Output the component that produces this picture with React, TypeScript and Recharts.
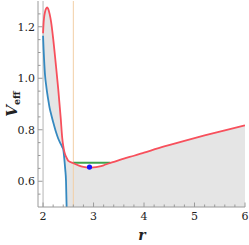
import React from "react";
import {
  ComposedChart,
  Area,
  Line,
  Scatter,
  XAxis,
  YAxis,
  ReferenceLine,
} from "recharts";

// r grid where both curves exist (left of the blue curve leaving the frame)
const rNear = [
  2.0, 2.005, 2.01, 2.02, 2.04, 2.06, 2.08, 2.1, 2.13, 2.16, 2.2, 2.25, 2.3,
  2.35, 2.38, 2.4, 2.42, 2.44, 2.455, 2.467,
];
const redNear = [
  1.175, 1.195, 1.212, 1.235, 1.258, 1.27, 1.275, 1.27, 1.25, 1.218, 1.155,
  1.06, 0.96, 0.845, 0.768, 0.737, 0.716, 0.703, 0.696, 0.691,
];
const blueNear = [
  1.165, 1.14, 1.115, 1.075, 1.01, 0.975, 0.945, 0.92, 0.885, 0.86, 0.83,
  0.795, 0.766, 0.745, 0.733, 0.724, 0.69, 0.645, 0.6, 0.5,
];

// r grid for the red curve only
const rFar = [
  2.5, 2.6, 2.7, 2.8, 2.9, 3.0, 3.1, 3.2, 3.3, 3.45, 3.6, 3.8, 4.0, 4.4, 4.8,
  5.2, 5.6, 6.0,
];
const redFar = [
  0.679, 0.67, 0.662, 0.656, 0.653, 0.654, 0.657, 0.662, 0.669, 0.678, 0.688,
  0.699, 0.711, 0.735, 0.757, 0.778, 0.798, 0.817,
];

const energyLevel = { r: [2.6, 3.33], v: 0.672 };
const minPoint = { r: 2.92, v: 0.655 };
const horizonR = 2;
const markerR = 2.6;

const xMajor = [2, 3, 4, 5, 6];
const xMinor = [
  2.2, 2.4, 2.6, 2.8, 3.2, 3.4, 3.6, 3.8, 4.2, 4.4, 4.6, 4.8, 5.2, 5.4, 5.6,
  5.8,
];
const yMajor = [0.6, 0.8, 1.0, 1.2];
const yMinor = [
  0.55, 0.65, 0.7, 0.75, 0.85, 0.9, 0.95, 1.05, 1.1, 1.15, 1.25,
];

const V_BOTTOM = 0.5;

const redData = [
  ...rNear.map((r, i) => ({ r, v: redNear[i] })),
  ...rFar.map((r, i) => ({ r, v: redFar[i] })),
];
const blueData = rNear.map((r, i) => ({ r, v: blueNear[i] }));
const fillData = [
  ...rNear.map((r, i) => ({ r, band: [blueNear[i], redNear[i]] })),
  ...rFar.map((r, i) => ({ r, band: [V_BOTTOM, redFar[i]] })),
];
const greenData = energyLevel.r.map((r) => ({ r, v: energyLevel.v }));
const dotData = [{ r: minPoint.r, v: minPoint.v }];

const FRAME = "#9a9a9a";
const serif = { fontFamily: "'DejaVu Serif', 'Liberation Serif', serif" };

const isMajorX = (v: number) => xMajor.includes(v);
const isMajorY = (v: number) => yMajor.some((m) => Math.abs(m - v) < 1e-9);

const BottomTick = (props: any) => {
  const { x, y, payload } = props;
  const major = isMajorX(payload.value);
  return (
    <g>
      <line x1={x} x2={x} y1={y} y2={y - (major ? 4.5 : 2.5)} stroke={FRAME} />
      {major && (
        <text x={x} y={y + 13} textAnchor="middle" fontSize={11} style={serif} fill="#222">
          {payload.value}
        </text>
      )}
    </g>
  );
};

const TopTick = (props: any) => {
  const { x, y, payload } = props;
  const major = isMajorX(payload.value);
  return <line x1={x} x2={x} y1={y} y2={y + (major ? 4.5 : 2.5)} stroke={FRAME} />;
};

const LeftTick = (props: any) => {
  const { x, y, payload } = props;
  const major = isMajorY(payload.value);
  return (
    <g>
      <line x1={x} x2={x + (major ? 4.5 : 2.5)} y1={y} y2={y} stroke={FRAME} />
      {major && (
        <text x={x - 3} y={y + 4} textAnchor="end" fontSize={11} style={serif} fill="#222">
          {payload.value.toFixed(1)}
        </text>
      )}
    </g>
  );
};

const RightTick = (props: any) => {
  const { x, y, payload } = props;
  const major = isMajorY(payload.value);
  return <line x1={x} x2={x - (major ? 4.5 : 2.5)} y1={y} y2={y} stroke={FRAME} />;
};

const xTicks = [...xMajor, ...xMinor].sort((a, b) => a - b);
const yTicks = [...yMajor, ...yMinor].sort((a, b) => a - b);

export default function App() {
  return (
    <div style={{ position: "absolute", left: 0, top: 0, width: 249, height: 245 }}>
      <ComposedChart width={249} height={245} margin={{ top: 1, right: 4, bottom: 0, left: 0 }}>
        <XAxis
          dataKey="r"
          type="number"
          domain={[1.9, 6]}
          ticks={xTicks}
          interval={0}
          allowDataOverflow
          height={38}
          tickSize={0}
          tickMargin={0}
          tickLine={false}
          axisLine={{ stroke: FRAME }}
          tick={<BottomTick />}
        />
        <XAxis
          xAxisId="top"
          orientation="top"
          type="number"
          domain={[1.9, 6]}
          ticks={xTicks}
          interval={0}
          allowDataOverflow
          height={0}
          tickSize={0}
          tickMargin={0}
          tickLine={false}
          axisLine={{ stroke: FRAME }}
          tick={<TopTick />}
        />
        <YAxis
          type="number"
          domain={[0.5, 1.3]}
          ticks={yTicks}
          interval={0}
          allowDataOverflow
          width={38}
          tickSize={0}
          tickMargin={0}
          tickLine={false}
          axisLine={{ stroke: FRAME }}
          tick={<LeftTick />}
        />
        <YAxis
          yAxisId="right"
          orientation="right"
          type="number"
          domain={[0.5, 1.3]}
          ticks={yTicks}
          interval={0}
          allowDataOverflow
          width={0}
          tickSize={0}
          tickMargin={0}
          tickLine={false}
          axisLine={{ stroke: FRAME }}
          tick={<RightTick />}
        />

        {/* shaded band between the two curves */}
        <Area
          data={fillData}
          dataKey="band"
          type="monotone"
          stroke="none"
          fill="#e5e5e5"
          fillOpacity={1}
          isAnimationActive={false}
        />

        <ReferenceLine x={horizonR} stroke="#b4b4b4" strokeWidth={1} />
        <ReferenceLine x={markerR} stroke="#f2cfa6" strokeWidth={1} />

        <Line
          data={blueData}
          dataKey="v"
          type="monotone"
          stroke="#3589c0"
          strokeWidth={1.8}
          dot={false}
          isAnimationActive={false}
        />
        <Line
          data={greenData}
          dataKey="v"
          type="linear"
          stroke="#3fa34d"
          strokeWidth={2}
          dot={false}
          isAnimationActive={false}
        />
        <Line
          data={redData}
          dataKey="v"
          type="monotone"
          stroke="#f7505c"
          strokeWidth={1.8}
          dot={false}
          isAnimationActive={false}
        />
        <Scatter
          data={dotData}
          dataKey="v"
          fill="#1414ff"
          shape={(p: any) => <circle cx={p.cx} cy={p.cy} r={2.6} fill="#1414ff" />}
          isAnimationActive={false}
        />
      </ComposedChart>
      <svg
        width={249}
        height={245}
        style={{ position: "absolute", left: 0, top: 0, pointerEvents: "none" }}
      >
        <text
          x={142}
          y={240}
          textAnchor="middle"
          fontSize={14}
          style={serif}
          fontStyle="italic"
          fontWeight="bold"
          fill="#222"
        >
          r
        </text>
        <text
          x={17}
          y={104}
          transform="rotate(-90 17 104)"
          textAnchor="middle"
          style={serif}
          fill="#222"
        >
          <tspan fontSize={15} fontStyle="italic" fontWeight="bold">
            V
          </tspan>
          <tspan fontSize={9.5} fontWeight="bold" dy={3}>
            eff
          </tspan>
        </text>
      </svg>
    </div>
  );
}
